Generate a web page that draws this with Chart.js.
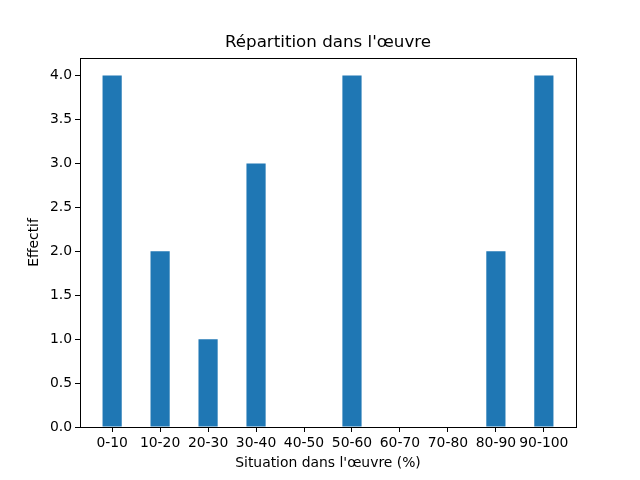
<!DOCTYPE html>
<html><head><meta charset="utf-8">
<script src="https://cdn.jsdelivr.net/npm/chart.js@4/dist/chart.umd.min.js"></script>
<style>html,body{margin:0;padding:0;background:#fff}#w{width:640px;height:480px}</style>
</head><body><div id="w"><canvas id="c" width="640" height="480"></canvas></div>
<script>
const categories = ["0-10","10-20","20-30","30-40","40-50","50-60","60-70","70-80","80-90","90-100"];
const counts = [4, 2, 1, 3, 0, 4, 0, 0, 2, 4];
const yTicks = [0, 0.5, 1.0, 1.5, 2.0, 2.5, 3.0, 3.5, 4.0];
const titleText = "Répartition dans l'œuvre";
const xLabel = "Situation dans l'œuvre (%)";
const yLabel = "Effectif";

const FONT = "'DejaVu Sans', sans-serif";
const frame = {
  id: 'frame',
  afterDraw(chart) {
    const a = chart.chartArea, ctx = chart.ctx;
    ctx.save();
    ctx.strokeStyle = '#000'; ctx.lineWidth = 1;
    ctx.strokeRect(Math.round(a.left)+0.5, Math.round(a.top)+0.5, Math.round(a.right-a.left), Math.round(a.bottom-a.top));
    ctx.fillStyle = '#000';
    ctx.font = "16.7px " + FONT;
    ctx.textAlign = 'center';
    ctx.textBaseline = 'middle';
    ctx.fillText(titleText, (a.left + a.right) / 2, 43);
    ctx.restore();
  }
};

new Chart(document.getElementById('c'), {
  type: 'bar',
  data: {
    datasets: [{
      data: categories.map((c, i) => ({x: i, y: counts[i]})),
      backgroundColor: '#1f77b4',
      borderColor: '#1f77b4',
      borderWidth: 0,
      inflateAmount: 0,
      barPercentage: 0.4,
      categoryPercentage: 1.0
    }]
  },
  plugins: [frame],
  options: {
    responsive: false,
    animation: false,
    devicePixelRatio: 1,
    layout: { padding: { left: 0, right: 64, top: 58, bottom: 0 } },
    plugins: {
      legend: { display: false },
      tooltip: { enabled: false },
      title: { display: false }
    },
    scales: {
      x: {
        type: 'linear', min: -0.67, max: 9.67, offset: false,
        afterBuildTicks: s => { s.ticks = categories.map((c, i) => ({value: i})); },
        afterFit: s => { s.height = 53; },
        ticks: {
          callback: (v) => categories[v], color: '#000', padding: 3,
          font: { family: FONT, size: 13.9 }, maxRotation: 0, autoSkip: false
        },
        grid: { drawOnChartArea: false, drawTicks: true, tickLength: 5, color: '#000', offset: false },
        border: { display: true, color: '#000' },
        title: { display: true, text: xLabel, color: '#000', font: { family: FONT, size: 13.9 }, padding: { top: 2, bottom: 8 } }
      },
      y: {
        min: 0, max: 4.2,
        afterBuildTicks: s => { s.ticks = yTicks.map(v => ({value: v})); },
        afterFit: s => { s.width = 80; },
        ticks: {
          callback: v => v.toFixed(1), color: '#000', padding: 3,
          font: { family: FONT, size: 13.9 }
        },
        grid: { drawOnChartArea: false, drawTicks: true, tickLength: 5, color: '#000' },
        border: { display: true, color: '#000' },
        title: { display: true, text: yLabel, color: '#000', font: { family: FONT, size: 13.9 }, padding: { top: 26, bottom: 0 } }
      }
    }
  }
});
</script></body></html>
